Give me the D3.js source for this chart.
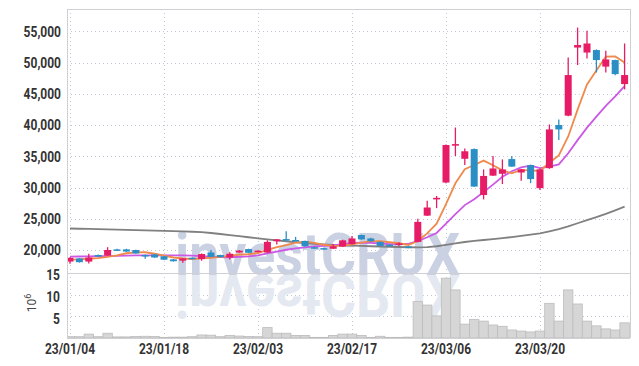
<!DOCTYPE html>
<html>
<head>
<meta charset="utf-8">
<script src="https://cdn.jsdelivr.net/npm/d3@7"></script>
<style>
  body { margin: 0; background: #fff; }
  svg text { font-family: Roboto, "Liberation Sans", sans-serif; }
</style>
</head>
<body>
<div id="chart"></div>
<script>
const dates = ['23/01/04','23/01/05','23/01/06','23/01/09','23/01/10','23/01/11','23/01/12','23/01/13','23/01/16','23/01/17',
  '23/01/18','23/01/19','23/01/20','23/01/25','23/01/26','23/01/27','23/01/30','23/01/31','23/02/01','23/02/02',
  '23/02/03','23/02/06','23/02/07','23/02/08','23/02/09','23/02/10','23/02/13','23/02/14','23/02/15','23/02/16',
  '23/02/17','23/02/20','23/02/21','23/02/22','23/02/23','23/02/24','23/02/27','23/02/28','23/03/02','23/03/03',
  '23/03/06','23/03/07','23/03/08','23/03/09','23/03/10','23/03/13','23/03/14','23/03/15','23/03/16','23/03/17',
  '23/03/20','23/03/21','23/03/22','23/03/23','23/03/24','23/03/27','23/03/28','23/03/29','23/03/30','23/03/31']

const opens = [18150,18650,18150,19200,19100,20100,20100,20000,19200,19300,
  19000,18500,18300,18750,18550,19600,19200,18800,19600,20150,
  19850,19600,21400,21750,21600,21450,20450,20300,20200,20550,
  20950,22400,21850,21300,20850,20850,20550,21300,25500,28100,
  30800,36700,34600,36150,28800,31900,32200,34550,32400,33600,
  29900,33100,40000,41500,52400,51600,52000,49350,50400,46550]
const highs = [18850,18700,19400,19300,20450,20200,20200,20050,19300,19350,
  19050,18550,18700,18850,19450,20000,19250,19650,20000,20200,
  19950,21550,21750,23000,22100,21500,20550,20350,20950,21650,
  22250,22450,21950,21350,20900,21250,20600,25000,27900,28650,
  36900,39600,36250,36250,32900,35050,34500,35050,32950,33650,
  33000,40100,40900,50800,55600,55100,52100,51900,50450,53050]
const lows = [17800,18000,17850,18900,19050,19850,19700,19400,18600,18750,
  18400,18150,17950,18600,18300,18850,18800,18500,19550,19500,
  19750,19550,20900,21500,21450,20550,20200,20050,20150,20500,
  20900,21650,21350,20600,20550,20650,20300,21250,25450,26700,
  30700,35050,33600,30100,28100,31850,30550,33300,31100,30700,
  29600,33000,37600,41400,49600,50650,48400,48400,47950,45700]
const closes = [18750,18050,18800,18950,20000,19900,19750,19450,19100,18800,
  18450,18200,18650,18700,19350,18900,18850,19400,19900,19550,
  19900,21300,21700,21550,21500,20600,20400,20150,20600,21550,
  21850,21700,21400,20650,20600,21050,20350,24500,26800,28350,
  36800,36950,35800,30150,31850,33050,32900,33350,32900,31350,
  32900,39300,39300,48000,52800,53050,50400,50500,48150,48000]

// volume in millions of shares
const volumes = [0.3,0.3,0.9,0.3,1.1,0.25,0.25,0.35,0.4,0.35,
  0.15,0.2,0.2,0.3,0.7,0.65,0.3,0.6,0.45,0.35,
  0.3,2.4,1.1,1.1,0.6,0.6,0.15,0.15,0.6,0.9,
  0.9,0.6,0.15,0.4,0.15,0.15,0.2,8.4,7.6,5.1,
  13.8,11.1,3.2,4.3,3.9,3.0,2.7,1.85,1.6,1.4,
  1.6,8.0,3.9,11.1,7.85,3.9,2.8,2.1,1.85,3.5]

const ma5 = [18450,18500,18600,18700,18910,19140,19480,19610,19640,19400,
  19110,18800,18640,18560,18670,18760,18890,19040,19280,19320,
  19520,20010,20470,20800,21190,21330,21150,20840,20650,20660,
  20910,21170,21420,21430,21240,21080,20810,21430,22660,24210,
  27360,30680,32940,33610,34310,33560,32750,32260,32810,32710,
  32680,33960,35150,38170,42460,46490,48710,50950,50980,50020]
const ma10 = [18950,18960,18980,19000,19030,19060,19100,19130,19150,19155,
  19125,19140,19125,19100,19035,18935,18845,18840,18920,18995,
  19140,19450,19755,20040,20255,20425,20580,20655,20725,20925,
  21120,21160,21130,21040,20950,20995,20990,21425,22045,22725,
  24220,25745,27185,28135,29260,30460,31715,32600,33210,33510,
  33120,33355,33705,35490,37585,39585,41335,43050,44575,46240]
const ma60 = [23440,23400,23370,23330,23290,23250,23210,23170,23130,23090,
  23050,23010,22970,22920,22860,22720,22560,22380,22210,22040,
  21870,21710,21550,21400,21240,21110,21000,20900,20800,20750,
  20700,20650,20600,20560,20520,20480,20440,20410,20450,20600,
  20820,21050,21280,21450,21600,21750,21900,22070,22250,22450,
  22670,23000,23350,23780,24280,24780,25250,25780,26350,26930]

const priceTicks = [20000, 25000, 30000, 35000, 40000, 45000, 50000, 55000]
const volumeTicks = [5, 10, 15]
const dateTicks = [0, 10, 20, 30, 40, 50]

const width = 639
const height = 366
const plotLeft = 67, plotRight = 630, plotTop = 9, priceBottom = 273, volBottom = 338
const UP = '#e61c66', DOWN = '#2b8fc6'

const svg = d3.select('#chart')
  .append('svg')
  .attr('width', width)
  .attr('height', height)

const x = d3.scaleBand()
  .domain(d3.range(dates.length))
  .range([65.3, 629.3])
  .padding(0)
const cx = i => x(i) + x.bandwidth() / 2

const y = d3.scaleLinear().domain([16320, 58570]).range([priceBottom, plotTop])
const yv = d3.scaleLinear().domain([0, 15]).range([volBottom, priceBottom])

// squeeze text horizontally (no narrow font installed)
const narrow = (sel, k) => sel.each(function () {
  const w = this.getComputedTextLength()
  d3.select(this).attr('textLength', w * k).attr('lengthAdjust', 'spacingAndGlyphs')
})

svg.append('clipPath').attr('id', 'plot-clip')
  .append('rect')
  .attr('x', plotLeft).attr('y', plotTop)
  .attr('width', plotRight - plotLeft).attr('height', volBottom - plotTop)

// ── GRID ───────────────────────────────────────────────
const grid = svg.append('g').attr('stroke', '#c3c8d8').attr('stroke-dasharray', '1,3')
grid.selectAll('.hp').data(priceTicks).join('line')
  .attr('class', 'hp')
  .attr('x1', plotLeft).attr('x2', plotRight)
  .attr('y1', d => Math.round(y(d)) + 0.5).attr('y2', d => Math.round(y(d)) + 0.5)
grid.selectAll('.hv').data([5, 10]).join('line')
  .attr('class', 'hv')
  .attr('x1', plotLeft).attr('x2', plotRight)
  .attr('y1', d => Math.round(yv(d)) + 0.5).attr('y2', d => Math.round(yv(d)) + 0.5)
grid.selectAll('.vx').data(dateTicks).join('line')
  .attr('class', 'vx')
  .attr('x1', d => Math.round(cx(d)) + 0.5).attr('x2', d => Math.round(cx(d)) + 0.5)
  .attr('y1', plotTop).attr('y2', volBottom)

// ── WATERMARK ─────────────────────────────────────────
const wm = svg.append('g')
wm.append('text')
  .attr('x', 175).attr('y', 275)
  .attr('font-size', 60).attr('font-weight', 'bold')
  .attr('textLength', 285).attr('lengthAdjust', 'spacingAndGlyphs')
  .attr('fill', '#c9d1e3')
  .text('investCRUX')
wm.append('text')
  .attr('x', 175).attr('y', 275)
  .attr('transform', 'translate(0,550) scale(1,-1)')
  .attr('font-size', 60).attr('font-weight', 'bold')
  .attr('textLength', 285).attr('lengthAdjust', 'spacingAndGlyphs')
  .attr('fill', '#e4e8f0')
  .text('investCRUX')

const plot = svg.append('g').attr('clip-path', 'url(#plot-clip)')

// ── VOLUME ────────────────────────────────────────────
plot.append('g').selectAll('rect')
  .data(volumes)
  .join('rect')
  .attr('x', (d, i) => x(i))
  .attr('width', x.bandwidth())
  .attr('y', d => yv(d))
  .attr('height', d => volBottom - yv(d))
  .attr('fill', '#d6d6d6')
  .attr('stroke', '#bcbcbc')
  .attr('stroke-width', 0.8)

// ── MOVING AVERAGES ───────────────────────────────────
const line = d3.line().x((d, i) => cx(i)).y(d => y(d))
const maSeries = [
  { values: ma60, color: '#808080' },
  { values: ma10, color: '#cc58e6' },
  { values: ma5, color: '#f08a4c' }
]
plot.append('g').selectAll('path')
  .data(maSeries)
  .join('path')
  .attr('d', d => line(d.values))
  .attr('fill', 'none')
  .attr('stroke', d => d.color)
  .attr('stroke-width', 1.8)

// ── CANDLES ───────────────────────────────────────────
const candles = plot.append('g').selectAll('g')
  .data(dates.map((d, i) => i))
  .join('g')
  .attr('fill', i => closes[i] >= opens[i] ? UP : DOWN)
  .attr('stroke', i => closes[i] >= opens[i] ? UP : DOWN)

candles.append('line')
  .attr('x1', i => cx(i)).attr('x2', i => cx(i))
  .attr('y1', i => y(highs[i])).attr('y2', i => y(lows[i]))
  .attr('stroke-width', 1.3)

candles.append('rect')
  .attr('x', i => cx(i) - 3.5)
  .attr('width', 7)
  .attr('y', i => y(Math.max(opens[i], closes[i])))
  .attr('height', i => Math.max(1.5, Math.abs(y(opens[i]) - y(closes[i]))))
  .attr('stroke', 'none')

// ── FRAME ─────────────────────────────────────────────
const frame = svg.append('g').attr('stroke', '#cfcfd4').attr('fill', 'none')
frame.append('line').attr('x1', plotLeft + 0.5).attr('x2', plotLeft + 0.5).attr('y1', plotTop).attr('y2', volBottom)
frame.append('line').attr('x1', plotRight + 0.5).attr('x2', plotRight + 0.5).attr('y1', plotTop).attr('y2', volBottom)
frame.append('line').attr('x1', plotLeft).attr('x2', plotRight).attr('y1', plotTop + 0.5).attr('y2', plotTop + 0.5)
frame.append('line').attr('x1', plotLeft).attr('x2', plotRight).attr('y1', priceBottom + 0.5).attr('y2', priceBottom + 0.5)
frame.append('line').attr('x1', plotLeft).attr('x2', plotRight).attr('y1', volBottom + 0.5).attr('y2', volBottom + 0.5)

// ── AXES ──────────────────────────────────────────────
const styleAxis = g => {
  g.select('.domain').remove()
  g.selectAll('line').remove()
  g.selectAll('text')
    .attr('font-family', 'Roboto, sans-serif')
    .attr('font-size', 15)
    .attr('font-weight', 'bold')
    .attr('fill', '#333')
    .call(narrow, 0.8)
}

svg.append('g')
  .attr('transform', `translate(${plotLeft - 6},0)`)
  .call(d3.axisLeft(y).tickValues(priceTicks).tickFormat(d3.format(',')).tickSize(0).tickPadding(0))
  .call(styleAxis)

svg.append('g')
  .attr('transform', `translate(${plotLeft - 7},2)`)
  .call(d3.axisLeft(yv).tickValues(volumeTicks).tickSize(0).tickPadding(0))
  .call(styleAxis)

svg.append('g')
  .attr('transform', `translate(0,${volBottom})`)
  .call(d3.axisBottom(x).tickValues(dateTicks).tickFormat(i => dates[i]).tickSize(0).tickPadding(5))
  .call(styleAxis)

const unit = svg.append('text')
  .attr('transform', 'translate(36,303) rotate(-90)')
  .attr('text-anchor', 'middle')
  .attr('font-family', '"DejaVu Sans", sans-serif')
  .attr('font-size', 12)
  .attr('fill', '#444')
unit.append('tspan').text('10')
unit.append('tspan').attr('dy', -5).attr('font-size', 9).text('6')
</script>
</body>
</html>
